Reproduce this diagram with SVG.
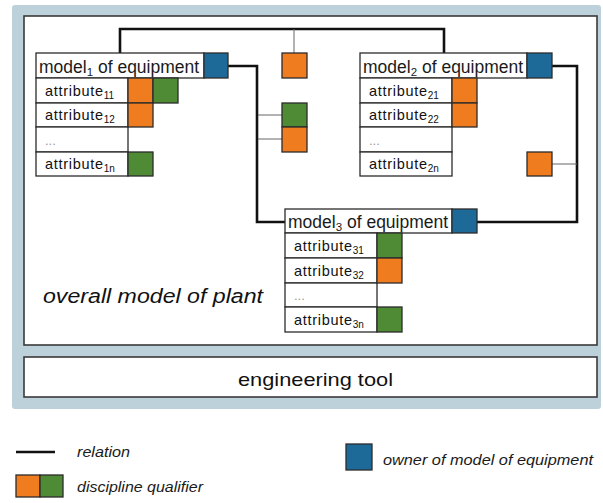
<svg xmlns="http://www.w3.org/2000/svg" width="603" height="503" viewBox="0 0 603 503">
<defs>
<style>
.frame{fill:#bcd1da;stroke:none}
.panel{fill:#ffffff;stroke:#3a3a3a;stroke-width:1.6}
.cell{fill:#ffffff;stroke:#2b2b2b;stroke-width:1.3}
.or{fill:#ef7d1f;stroke:#2b2b2b;stroke-width:1.3}
.gr{fill:#4f8a34;stroke:#2b2b2b;stroke-width:1.3}
.bl{fill:#1d6a98;stroke:#2b2b2b;stroke-width:1.3}
.rel{fill:none;stroke:#111;stroke-width:2.6;stroke-linejoin:miter}
.thin{fill:none;stroke:#666;stroke-width:1}
.hdr{font-family:"Liberation Sans",Arial,sans-serif;font-size:17.5px;fill:#1a1a1a}
.att{font-family:"Liberation Sans",Arial,sans-serif;font-size:14.5px;letter-spacing:0.7px;fill:#111}
.dots{font-family:"Liberation Sans",Arial,sans-serif;font-size:13px;fill:#9a9a9a}
.sub{font-size:10px;letter-spacing:0}
.hsub{font-size:11.5px}
.big{font-family:"Liberation Sans",Arial,sans-serif;font-style:italic;font-size:20.5px;fill:#111}
.tool{font-family:"Liberation Sans",Arial,sans-serif;font-size:18.5px;fill:#111}
.leg{font-family:"Liberation Sans",Arial,sans-serif;font-style:italic;font-size:14px;fill:#1a1a1a}
</style>
</defs>
<rect x="0" y="0" width="603" height="503" fill="#ffffff"/>
<rect class="frame" x="12" y="5" width="589" height="404" rx="3"/>
<rect id="overall" class="panel" x="24" y="16" width="573" height="329"/>
<text class="big" x="43" y="303" textLength="220" lengthAdjust="spacingAndGlyphs">overall model of plant</text>
<g id="engineering-tool">
<rect class="panel" x="24" y="357" width="573" height="40"/>
<text class="tool" x="238" y="386" textLength="155" lengthAdjust="spacingAndGlyphs">engineering tool</text>
</g>

<g id="connectors">
<polyline class="rel" points="120,53 120,29 444,29 444,53"/>
<polyline class="rel" points="228,66 257,66 257,222 285,222"/>
<polyline class="rel" points="552,66 577,66 577,222 477,222"/>
<line class="thin" x1="294" y1="29" x2="294" y2="53"/>
<line class="thin" x1="258" y1="115" x2="282" y2="115"/>
<line class="thin" x1="258" y1="139" x2="282" y2="139"/>
<line class="thin" x1="552" y1="164" x2="577" y2="164"/>
</g>

<g id="qualifier-top"><rect class="or" x="282" y="53" width="25" height="25"/></g>
<g id="qualifier-mid">
<rect class="gr" x="282" y="103" width="25" height="24"/>
<rect class="or" x="282" y="127" width="25" height="25"/>
</g>
<g id="qualifier-right"><rect class="or" x="527" y="152" width="25" height="24"/></g>

<g id="model1">
<rect class="cell" x="36" y="53" width="168" height="25"/>
<rect class="bl" x="204" y="53" width="24" height="25"/>
<text class="hdr" x="39" y="73">model<tspan class="hsub" dy="3">1</tspan><tspan dy="-3"> of equipment</tspan></text>
<rect class="cell" x="36" y="78" width="92" height="25"/>
<rect class="cell" x="36" y="103" width="92" height="24"/>
<rect class="cell" x="36" y="127" width="92" height="25"/>
<rect class="cell" x="36" y="152" width="92" height="24"/>
<rect class="or" x="128" y="78" width="25" height="25"/>
<rect class="gr" x="153" y="78" width="25" height="25"/>
<rect class="or" x="128" y="103" width="25" height="24"/>
<rect class="gr" x="128" y="152" width="25" height="24"/>
<text class="att" x="45" y="96">attribute<tspan class="sub" dy="3">11</tspan></text>
<text class="att" x="45" y="120">attribute<tspan class="sub" dy="3">12</tspan></text>
<text class="dots" x="45" y="145">...</text>
<text class="att" x="45" y="169">attribute<tspan class="sub" dy="3">1n</tspan></text>
</g>

<g id="model2">
<rect class="cell" x="360" y="53" width="167" height="25"/>
<rect class="bl" x="527" y="53" width="25" height="25"/>
<text class="hdr" x="363" y="73">model<tspan class="hsub" dy="3">2</tspan><tspan dy="-3"> of equipment</tspan></text>
<rect class="cell" x="360" y="78" width="92" height="25"/>
<rect class="cell" x="360" y="103" width="92" height="24"/>
<rect class="cell" x="360" y="127" width="92" height="25"/>
<rect class="cell" x="360" y="152" width="92" height="24"/>
<rect class="or" x="452" y="78" width="25" height="25"/>
<rect class="or" x="452" y="103" width="25" height="24"/>
<text class="att" x="369" y="96">attribute<tspan class="sub" dy="3">21</tspan></text>
<text class="att" x="369" y="120">attribute<tspan class="sub" dy="3">22</tspan></text>
<text class="dots" x="369" y="145">...</text>
<text class="att" x="369" y="169">attribute<tspan class="sub" dy="3">2n</tspan></text>
</g>

<g id="model3">
<rect class="cell" x="285" y="209" width="167" height="24"/>
<rect class="bl" x="452" y="209" width="25" height="24"/>
<text class="hdr" x="288" y="228">model<tspan class="hsub" dy="3">3</tspan><tspan dy="-3"> of equipment</tspan></text>
<rect class="cell" x="285" y="233" width="92" height="25"/>
<rect class="cell" x="285" y="258" width="92" height="25"/>
<rect class="cell" x="285" y="283" width="92" height="24"/>
<rect class="cell" x="285" y="307" width="92" height="25"/>
<rect class="gr" x="377" y="233" width="25" height="25"/>
<rect class="or" x="377" y="258" width="25" height="25"/>
<rect class="gr" x="377" y="307" width="25" height="25"/>
<text class="att" x="294" y="251">attribute<tspan class="sub" dy="3">31</tspan></text>
<text class="att" x="294" y="276">attribute<tspan class="sub" dy="3">32</tspan></text>
<text class="dots" x="294" y="300">...</text>
<text class="att" x="294" y="325">attribute<tspan class="sub" dy="3">3n</tspan></text>
</g>

<g id="legend">
<line x1="16" y1="452" x2="55" y2="452" stroke="#111" stroke-width="2.6"/>
<text class="leg" x="77" y="457" textLength="53" lengthAdjust="spacingAndGlyphs">relation</text>
<rect class="or" x="16" y="475" width="24" height="22"/>
<rect class="gr" x="40" y="475" width="23" height="22"/>
<text class="leg" x="77" y="492" textLength="126" lengthAdjust="spacingAndGlyphs">discipline qualifier</text>
<rect class="bl" x="346" y="444" width="26" height="26"/>
<text class="leg" x="383" y="465" textLength="210" lengthAdjust="spacingAndGlyphs">owner of model of equipment</text>
</g>
</svg>
